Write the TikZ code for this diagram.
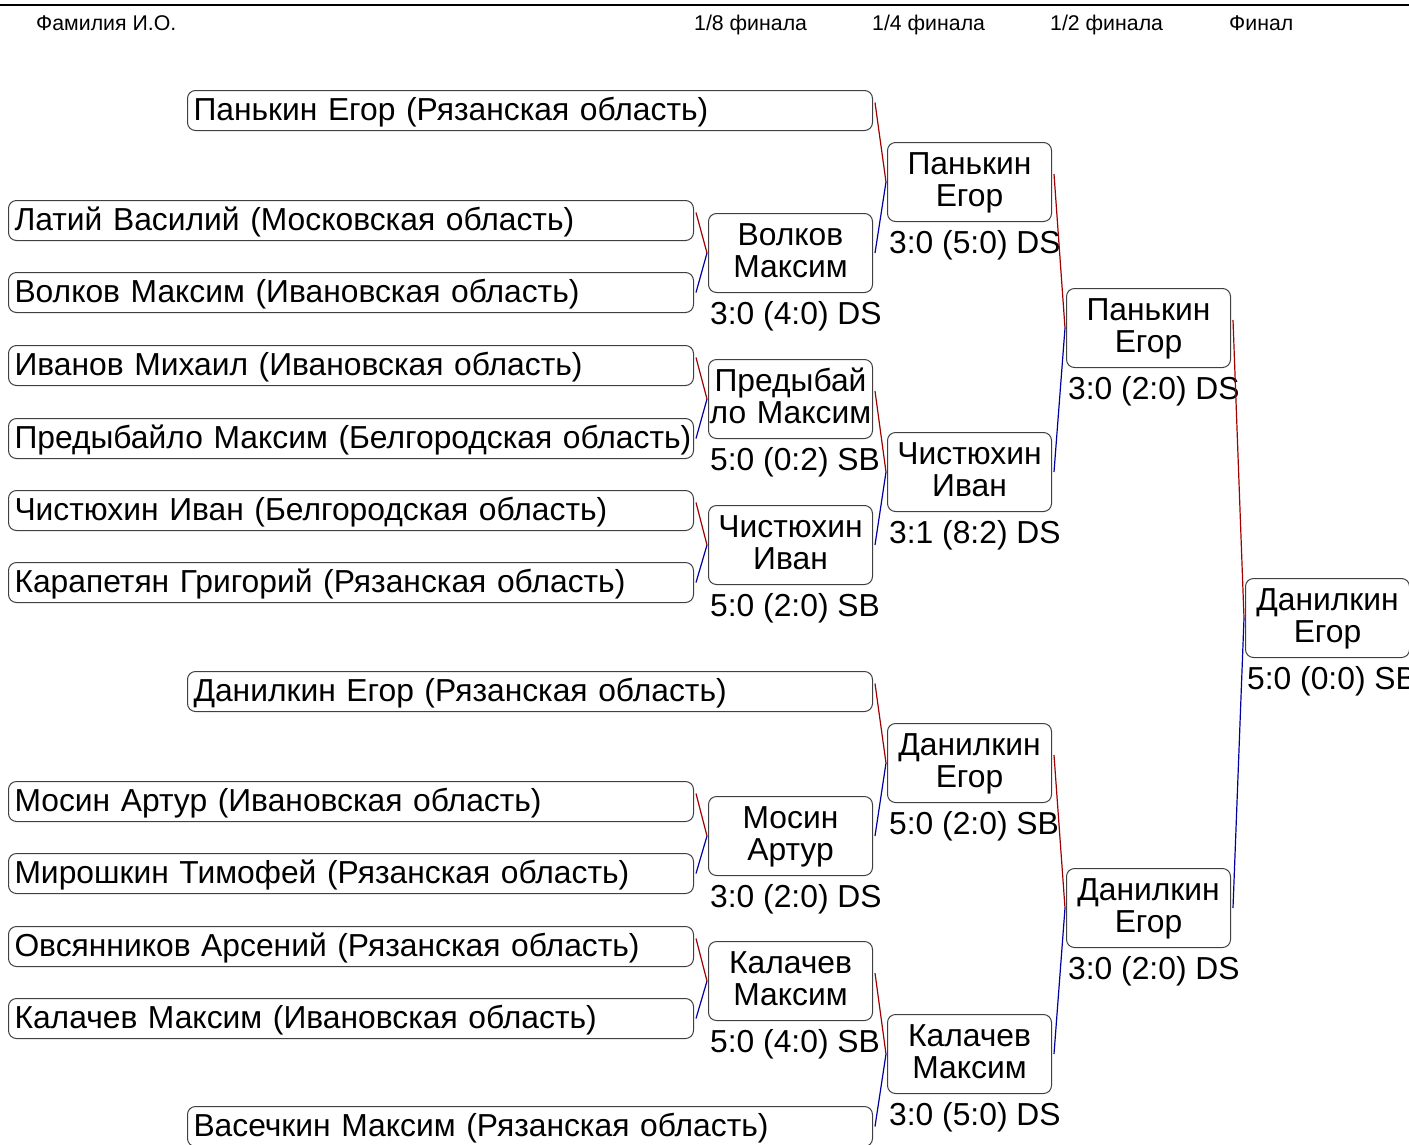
\documentclass[tikz,border=0pt]{standalone}
\usepackage{fontspec}
\setmainfont{Liberation Sans}
\definecolor{wred}{RGB}{160,0,0}
\definecolor{lblue}{RGB}{0,0,160}
\newcommand{\mainfs}{\fontsize{31.8}{32}\selectfont}
\newcommand{\headfs}{\fontsize{21.3}{23}\selectfont}
\begin{document}
\begin{tikzpicture}[x=1pt,y=-1pt,
  box/.style={draw=black!75, line width=1pt, rounded corners=8pt, font=\mainfs},
  entrant/.style={box, anchor=north west, minimum height=40pt, inner xsep=6pt, inner ysep=0pt,
     text width=673pt, align=left, text height=24pt, text depth=5pt},
  winner/.style={box, anchor=north west, minimum height=79pt, inner xsep=0pt, inner ysep=0pt,
     text width=164pt, align=center, text height=22pt, text depth=38pt},
  score/.style={font=\mainfs, anchor=base west, inner sep=0pt},
  head/.style={font=\headfs, anchor=base west, inner sep=0pt},
  redline/.style={draw=wred, line width=1.2pt},
  blueline/.style={draw=lblue, line width=1.2pt}]
\useasboundingbox[fill=white] (0,0) rectangle (1409,1144);
% header
\coordinate (hl) at (0,5);
\coordinate (hr) at (1409,5);
\draw[line width=2pt] (hl) -- (hr);
\node[head] (h0) at (36,30) {Фамилия И.О.};
\node[head] (h1) at (694,30) {1/8 финала};
\node[head] (h2) at (872,30) {1/4 финала};
\node[head] (h3) at (1050,30) {1/2 финала};
\node[head] (h4) at (1229,30) {Финал};
% entrants
\node[entrant] (e1) at (8,200) {\mbox{Латий Василий (Московская область)}};
\node[entrant] (e2) at (8,272) {\mbox{Волков Максим (Ивановская область)}};
\node[entrant] (e3) at (8,345) {\mbox{Иванов Михаил (Ивановская область)}};
\node[entrant] (e4) at (8,418) {\mbox{Предыбайло Максим (Белгородская область)}};
\node[entrant] (e5) at (8,490) {\mbox{Чистюхин Иван (Белгородская область)}};
\node[entrant] (e6) at (8,562) {\mbox{Карапетян Григорий (Рязанская область)}};
\node[entrant] (e7) at (8,781) {\mbox{Мосин Артур (Ивановская область)}};
\node[entrant] (e8) at (8,853) {\mbox{Мирошкин Тимофей (Рязанская область)}};
\node[entrant] (e9) at (8,926) {\mbox{Овсянников Арсений (Рязанская область)}};
\node[entrant] (e10) at (8,998) {\mbox{Калачев Максим (Ивановская область)}};
\node[entrant] (b1) at (187,90) {\mbox{Панькин Егор (Рязанская область)}};
\node[entrant] (b2) at (187,671) {\mbox{Данилкин Егор (Рязанская область)}};
\node[entrant] (b3) at (187,1106) {\mbox{Васечкин Максим (Рязанская область)}};
% round of 16
\node[winner] (r1) at (708,213) {Волков\\Максим};
\node[winner] (r2) at (708,359) {Предыбай\\\mbox{ло Максим}};
\node[winner] (r3) at (708,505) {Чистюхин\\Иван};
\node[winner] (r4) at (708,796) {Мосин\\Артур};
\node[winner] (r5) at (708,941) {Калачев\\Максим};
% quarter finals
\node[winner] (q1) at (887,142) {Панькин\\Егор};
\node[winner] (q2) at (887,432) {Чистюхин\\Иван};
\node[winner] (q3) at (887,723) {Данилкин\\Егор};
\node[winner] (q4) at (887,1014) {Калачев\\Максим};
% semi finals
\node[winner] (s1) at (1066,288) {Панькин\\Егор};
\node[winner] (s2) at (1066,868) {Данилкин\\Егор};
% final
\node[winner] (f1) at (1245,578) {Данилкин\\Егор};
% scores
\foreach \n/\t in {r1/{3:0 (4:0) DS}, r2/{5:0 (0:2) SB}, r3/{5:0 (2:0) SB}, r4/{3:0 (2:0) DS},
  r5/{5:0 (4:0) SB}, q1/{3:0 (5:0) DS}, q2/{3:1 (8:2) DS}, q3/{5:0 (2:0) SB}, q4/{3:0 (5:0) DS},
  s1/{3:0 (2:0) DS}, s2/{3:0 (2:0) DS}, f1/{5:0 (0:0) SB}}
  \node[score] (sc-\n) at ([xshift=2pt,yshift=-31pt]\n.south west) {\t};
% connectors
\foreach \w/\u/\l in {r1/e1/e2, r2/e3/e4, r3/e5/e6, r4/e7/e8, r5/e9/e10,
  q1/b1/r1, q2/r2/r3, q3/b2/r4, q4/r5/b3, s1/q1/q2, s2/q3/q4, f1/s1/s2} {
  \draw[redline] ([xshift=2pt,yshift=8pt]\u.east) -- ([xshift=-1pt]\w.west);
  \draw[blueline] ([xshift=-1pt]\w.west) -- ([xshift=2pt]\l.east);
}
\end{tikzpicture}
\end{document}
